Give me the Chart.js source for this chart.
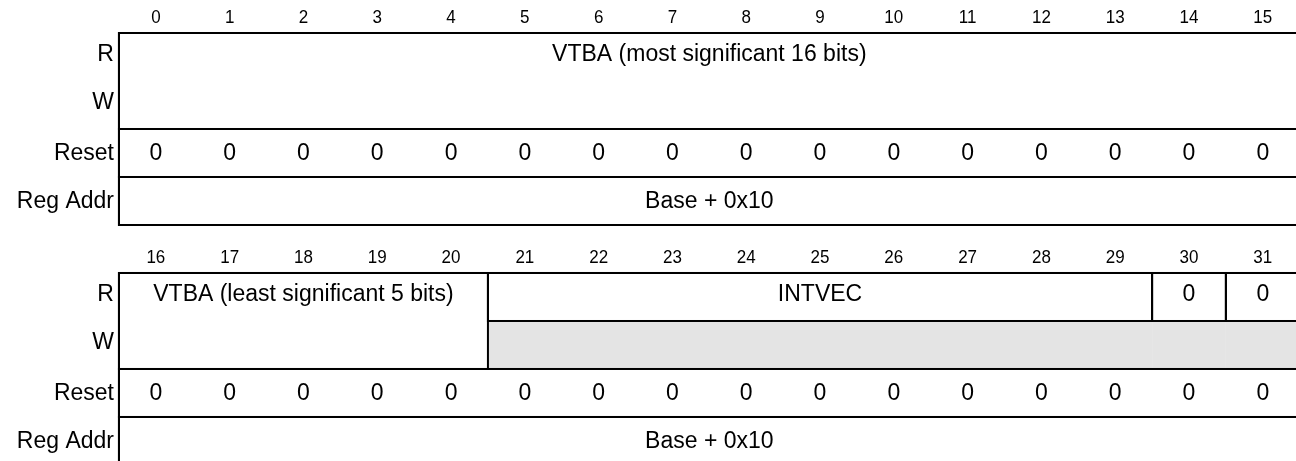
<!DOCTYPE html>
<html>
<head>
<meta charset="utf-8">
<script src="https://cdn.jsdelivr.net/npm/chart.js@4/dist/chart.umd.min.js"></script>
<style>
  html, body { margin: 0; padding: 0; background: #fff; }
  #wrap { width: 1296px; height: 461px; }
</style>
</head>
<body>
<div id="wrap"><canvas id="chart" width="1296" height="461"></canvas></div>
<script>
'use strict';

// row names on the left
const rowLabels = ['R', 'W', 'Reset', 'Reg Addr'];

// bit numbers printed above each half
const bitsHigh = ['0', '1', '2', '3', '4', '5', '6', '7', '8', '9', '10', '11', '12', '13', '14', '15'];
const bitsLow = ['16', '17', '18', '19', '20', '21', '22', '23', '24', '25', '26', '27', '28', '29', '30', '31'];

// reset values
const resetHigh = [0, 0, 0, 0, 0, 0, 0, 0, 0, 0, 0, 0, 0, 0, 0, 0];
const resetLow = [0, 0, 0, 0, 0, 0, 0, 0, 0, 0, 0, 0, 0, 0, 0, 0];

// bit fields (first bit, last bit, access)
const fieldsHigh = [
  { name: 'VTBA (most significant 16 bits)', from: 0, to: 15, access: 'rw' }
];
const fieldsLow = [
  { name: 'VTBA (least significant 5 bits)', from: 16, to: 20, access: 'rw' },
  { name: 'INTVEC', from: 21, to: 29, access: 'r' },
  { name: '0', from: 30, to: 30, access: 'r' },
  { name: '0', from: 31, to: 31, access: 'r' }
];

const regAddr = 'Base + 0x10';

const halves = [
  { base: 0, row: 0, bits: bitsHigh, reset: resetHigh, fields: fieldsHigh },
  { base: 16, row: 5, bits: bitsLow, reset: resetLow, fields: fieldsLow }
];

const FONT = '"Liberation Sans", Arial, Helvetica, sans-serif';

// the source text is a little taller than it is wide
function tallText(ctx, s, x, y, stretch) {
  ctx.save();
  ctx.translate(x, y);
  ctx.scale(1, stretch);
  ctx.fillText(s, 0, 0);
  ctx.restore();
}

const registerPlugin = {
  id: 'register',
  afterDraw(chart) {
    const ctx = chart.ctx;
    const x = chart.scales.x;
    const y = chart.scales.y;
    const px = v => x.getPixelForValue(v);
    const py = v => y.getPixelForValue(v);

    ctx.save();
    ctx.fillStyle = '#000';
    ctx.textBaseline = 'middle';

    halves.forEach(h => {
      const top = h.row;

      // bit numbers
      ctx.font = '17px ' + FONT;
      ctx.textAlign = 'center';
      h.bits.forEach((b, i) => tallText(ctx, b, px(i + 0.5), py(top - 0.31), 1.05));

      // row names
      ctx.font = '23px ' + FONT;
      ctx.textAlign = 'right';
      const rowY = [0.45, 1.45, 2.5, 3.5];
      rowLabels.forEach((r, i) => tallText(ctx, r, px(0) - 5, py(top + rowY[i]), 1.08));

      // grey W cells of read-only fields
      ctx.fillStyle = '#e4e4e4';
      h.fields.filter(f => f.access === 'r').forEach(f => {
        const x0 = px(f.from - h.base), x1 = px(f.to - h.base + 1);
        ctx.fillRect(x0, py(top + 1), x1 - x0, py(top + 2) - py(top + 1));
      });

      ctx.strokeStyle = '#000';
      ctx.lineWidth = 2;
      ctx.fillStyle = '#000';
      ctx.textAlign = 'center';

      // field boxes + names
      h.fields.forEach(f => {
        const x0 = px(f.from - h.base), x1 = px(f.to - h.base + 1);
        const bottom = f.access === 'rw' ? top + 2 : top + 1;
        ctx.strokeRect(x0, py(top), x1 - x0, py(bottom) - py(top));
        tallText(ctx, f.name, (x0 + x1) / 2, py(top + 0.45), 1.08);
      });

      // reset row
      ctx.strokeRect(px(0), py(top + 2), px(16) - px(0), py(top + 3) - py(top + 2));
      h.reset.forEach((v, i) => tallText(ctx, String(v), px(i + 0.5), py(top + 2.5), 1.08));

      // reg addr row
      ctx.strokeRect(px(0), py(top + 3), px(16) - px(0), py(top + 4) - py(top + 3));
      tallText(ctx, regAddr, (px(0) + px(16)) / 2, py(top + 3.5), 1.08);

      // outer frame
      ctx.strokeRect(px(0), py(top), px(16) - px(0), py(top + 4) - py(top));
    });

    ctx.restore();
  }
};

new Chart(document.getElementById('chart').getContext('2d'), {
  type: 'scatter',
  data: { datasets: [{ data: [] }] },
  options: {
    responsive: false,
    animation: false,
    devicePixelRatio: 1,
    layout: { padding: 0 },
    plugins: { legend: { display: false }, tooltip: { enabled: false } },
    scales: {
      x: { type: 'linear', min: -1.612, max: 15.95, display: false },
      y: { type: 'linear', reverse: true, min: -0.6875, max: 8.917, display: false }
    }
  },
  plugins: [registerPlugin]
});
</script>
</body>
</html>
